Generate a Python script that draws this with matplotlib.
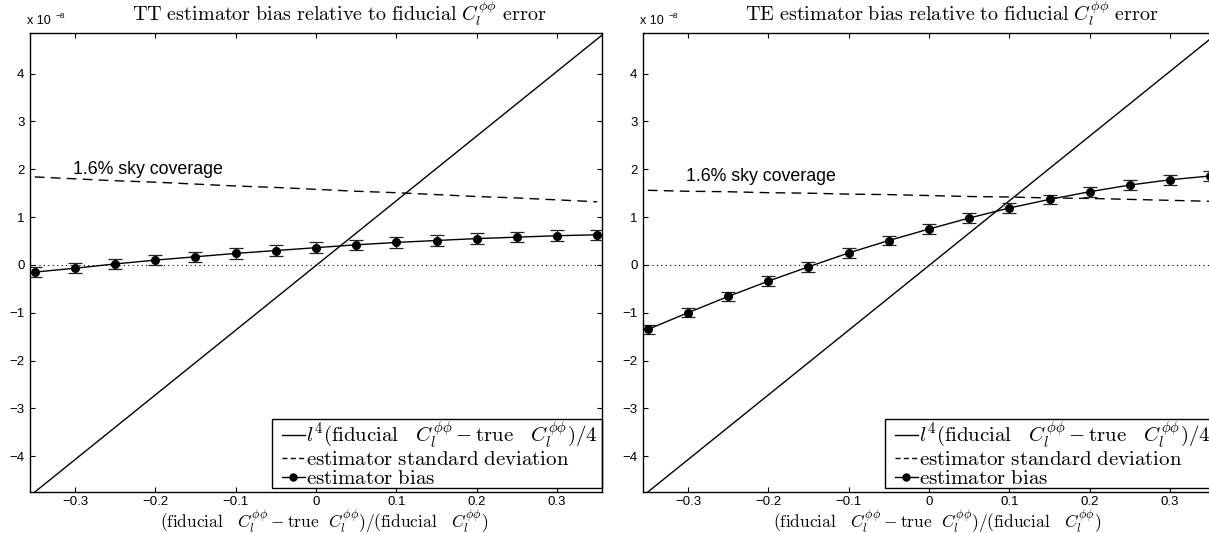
import matplotlib
matplotlib.use("Agg")
import matplotlib.pyplot as plt
from matplotlib.lines import Line2D
from matplotlib.patches import Rectangle

plt.rcParams['font.family'] = ['Liberation Sans', 'DejaVu Sans']
plt.rcParams['mathtext.fontset'] = 'cm'

# fractional error in fiducial C_l^phiphi
frac_err = [-0.35, -0.30, -0.25, -0.20, -0.15, -0.10, -0.05, 0.0,
            0.05, 0.10, 0.15, 0.20, 0.25, 0.30, 0.35]

# l^4 (fiducial - true)/4 reference line (end points, units of 1e-8)
ref_x = [-0.35, 0.36]
ref_y = [-4.75, 4.86]

# TT estimator
tt_bias = [-0.15, -0.07, 0.02, 0.10, 0.17, 0.24, 0.30, 0.36,
           0.42, 0.47, 0.51, 0.55, 0.58, 0.61, 0.63]
tt_bias_err = [0.11, 0.11, 0.11, 0.11, 0.11, 0.11, 0.11, 0.11,
               0.11, 0.11, 0.11, 0.11, 0.11, 0.11, 0.11]
tt_std = [1.84, 1.80, 1.76, 1.73, 1.69, 1.65, 1.62, 1.58,
          1.54, 1.51, 1.47, 1.43, 1.40, 1.36, 1.32]

# TE estimator
te_bias = [-1.35, -1.00, -0.66, -0.34, -0.04, 0.25, 0.51, 0.75,
           0.98, 1.19, 1.37, 1.53, 1.67, 1.78, 1.86]
te_bias_err = [0.10, 0.10, 0.10, 0.10, 0.10, 0.10, 0.10, 0.10,
               0.10, 0.10, 0.10, 0.10, 0.10, 0.10, 0.10]
te_std = [1.56, 1.54, 1.53, 1.51, 1.50, 1.48, 1.47, 1.45,
          1.43, 1.42, 1.40, 1.39, 1.37, 1.35, 1.33]

panels = [
    ("TT", tt_bias, tt_bias_err, tt_std, 2.0),
    ("TE", te_bias, te_bias_err, te_std, 1.84),
]

xticks = [-0.3, -0.2, -0.1, 0, 0.1, 0.2, 0.3]
xticklabels = ["\u22120.3", "\u22120.2", "\u22120.1", "0", "0.1", "0.2", "0.3"]
yticks = [-4, -3, -2, -1, 0, 1, 2, 3, 4]
yticklabels = ["\u22124", "\u22123", "\u22122", "\u22121", "0", "1", "2", "3", "4"]

CL = r"C_l^{\phi\phi}"
legend_labels = [
    r"$l^4(\mathrm{fiducial}\ \ \ " + CL + r"-\mathrm{true}\ \ \ " + CL + r")/4$",
    r"$\mathrm{estimator\ standard\ deviation}$",
    r"$\mathrm{estimator\ bias}$",
]
xlabel = (r"$(\mathrm{fiducial}\ \ \ " + CL + r"-\mathrm{true}\ \ " + CL
          + r")/(\mathrm{fiducial}\ \ \ " + CL + r")$")

W, H = 1209, 533
fig = plt.figure(figsize=(W / 100, H / 100), dpi=100)

ax_left_px = [30, 643]
ax_w, ax_top, ax_bot = 572, 33, 492
ax_h = ax_bot - ax_top

for (name, bias, bias_err, std, label_y), left_px in zip(panels, ax_left_px):
    ax = fig.add_axes([left_px / W, 1 - ax_bot / H, ax_w / W, ax_h / H])

    ax.plot(ref_x, ref_y, color='black', lw=1.0)
    ax.plot(frac_err, std, color='black', lw=1.0, dashes=(7, 4.5))
    ax.axhline(0, color='black', lw=0.8, ls=(0, (1, 3)))
    ax.errorbar(frac_err, bias, yerr=bias_err, color='black', lw=1.0,
                marker='o', markersize=5.5, capsize=5, elinewidth=0.9,
                capthick=0.9, ecolor='#222222')

    ax.text(-0.302, label_y, "1.6% sky coverage", fontsize=12.8, va='center', ha='left')

    ax.set_xlim(-0.356, 0.356)
    ax.set_ylim(-4.75, 4.85)
    ax.set_xticks(xticks)
    ax.set_xticklabels(xticklabels)
    ax.set_yticks(yticks)
    ax.set_yticklabels(yticklabels)
    ax.tick_params(direction='in', top=True, right=True, length=3.6,
                   width=0.8, labelsize=9.5, pad=4)
    ax.tick_params(axis='x', pad=3)
    for s in ax.spines.values():
        s.set_linewidth(1.0)
        s.set_zorder(7)

    ax.text(0.54, 1 + 12 / ax_h,
            r"$\mathrm{" + name + r"\ estimator\ bias\ relative\ to\ fiducial\ }"
            + CL + r"\mathrm{\ error}$", transform=ax.transAxes, ha='center',
            va='baseline', fontsize=14.5)
    ax.text(0.515, -29.5 / ax_h, xlabel, transform=ax.transAxes, ha='center',
            va='center', fontsize=12.5)

    # exponent label
    ax.text(-0.006, 1 + 9 / ax_h, "x 10", transform=ax.transAxes, fontsize=9,
            ha='left', va='baseline')
    ax.text(0.045, 1 + 15 / ax_h, "\u22128", transform=ax.transAxes, fontsize=6,
            ha='left', va='baseline')

    # legend box (MATLAB style, extra room on the left)
    box_left = (272 - 30) / ax_w
    box = Rectangle((box_left, 4 / ax_h), 1.0 - box_left, 69 / ax_h,
                    transform=ax.transAxes, facecolor='white', edgecolor='black',
                    lw=1.0, zorder=5, clip_on=False)
    ax.add_patch(box)

    handles = [
        Line2D([], [], color='black', lw=1.0),
        Line2D([], [], color='black', lw=1.0, dashes=(3.6, 2.4)),
        Line2D([], [], color='black', lw=1.0, marker='o', markersize=5),
    ]
    leg = ax.legend(handles, legend_labels, loc='center left',
                    bbox_to_anchor=((282 - 30) / ax_w, (4 + 34) / ax_h),
                    borderaxespad=0, fontsize=15, handlelength=1.1,
                    handletextpad=0.05, labelspacing=0.0, borderpad=0.0,
                    frameon=False)
    leg.set_zorder(6)

fig.savefig("out.png", dpi=100)
